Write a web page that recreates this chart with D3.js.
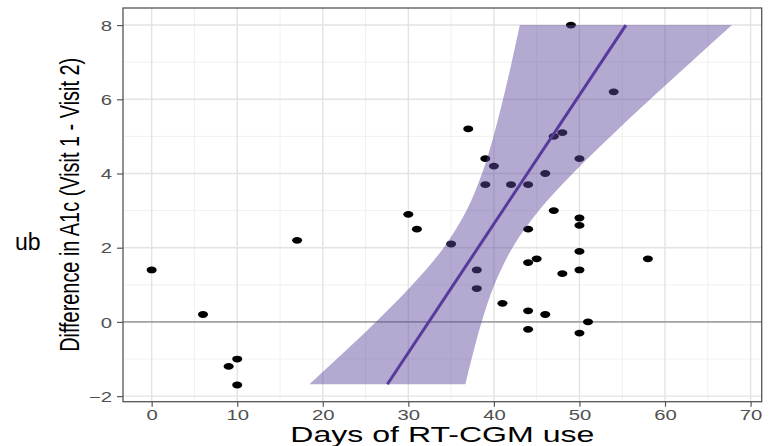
<!DOCTYPE html>
<html>
<head>
<meta charset="utf-8">
<script src="https://cdn.jsdelivr.net/npm/d3@7"></script>
<style>
  html, body { margin: 0; padding: 0; background: #fff; }
  svg { display: block; }
</style>
</head>
<body>
<svg id="chart" width="773" height="446"></svg>
<script>
// ---- data ----
const daysOfUse = [0, 6, 9, 10, 10, 17, 30, 31, 35, 37, 38, 38, 39, 39, 40, 41, 42, 44, 44, 44, 44, 44, 45, 46, 46, 47, 47, 48, 48, 49, 50, 50, 50, 50, 50, 50, 51, 54, 58];
const a1cDiff   = [1.4, 0.2, -1.2, -1.0, -1.7, 2.2, 2.9, 2.5, 2.1, 5.2, 1.4, 0.9, 4.4, 3.7, 4.2, 0.5, 3.7, 2.5, 3.7, 1.6, 0.3, -0.2, 1.7, 0.2, 4.0, 3.0, 5.0, 5.1, 1.3, 8.0, 2.8, 2.6, 1.9, 1.4, 4.4, -0.3, 0.0, 6.2, 1.7];

// fitted line endpoints (x as a function of y)
const fitY = [-1.68, 8];
const fitX = [27.55, 55.43];

// confidence band edges, traced at these y levels
const bandY  = [-1.68, -1, 0, 1, 2, 3, 4, 5, 6, 7, 8];
const bandLo = [18.44, 21.63, 26.21, 30.48, 34.13, 36.80, 38.61, 39.95, 41.07, 42.08, 43.03];
const bandHi = [36.66, 37.39, 38.57, 40.06, 42.17, 45.26, 49.21, 53.63, 58.27, 63.02, 67.83];

const xTicks = [0, 10, 20, 30, 40, 50, 60, 70];
const xMinor = [5, 15, 25, 35, 45, 55, 65];
const yTicks = [-2, 0, 2, 4, 6, 8];
const yMinor = [-1, 1, 3, 5, 7];

const xTitle = "Days of RT-CGM use";
const yTitle = "Difference in A1c (Visit 1 - Visit 2)";
const strayText = "ub";

// ---- drawing ----
const svg = d3.select("#chart");
const L = 123, R = 761.7, T = 8, B = 401.7;
const FONT = "'Liberation Sans', Arial, sans-serif";
const STRETCH = 1.4;

const x = d3.scaleLinear().domain([-3.35, 71.3]).range([L, R]);
const y = d3.scaleLinear().domain([-2.15, 8.46]).range([B, T]);

const panel = svg.append("g");
panel.append("rect").attr("x", L).attr("y", T).attr("width", R - L).attr("height", B - T).attr("fill", "#fff");

// minor grid
panel.selectAll(".xminor").data(xMinor).join("line")
  .attr("x1", d => x(d)).attr("x2", d => x(d)).attr("y1", T).attr("y2", B)
  .attr("stroke", "#eeeeee").attr("stroke-width", 0.9);
panel.selectAll(".yminor").data(yMinor).join("line")
  .attr("y1", d => y(d)).attr("y2", d => y(d)).attr("x1", L).attr("x2", R)
  .attr("stroke", "#eeeeee").attr("stroke-width", 0.9);
// major grid
panel.selectAll(".xmajor").data(xTicks).join("line")
  .attr("x1", d => x(d)).attr("x2", d => x(d)).attr("y1", T).attr("y2", B)
  .attr("stroke", "#e3e3e3").attr("stroke-width", 1.4);
panel.selectAll(".ymajor").data(yTicks).join("line")
  .attr("y1", d => y(d)).attr("y2", d => y(d)).attr("x1", L).attr("x2", R)
  .attr("stroke", "#e3e3e3").attr("stroke-width", 1.4);

// zero reference line
panel.append("line")
  .attr("x1", L).attr("x2", R).attr("y1", y(0)).attr("y2", y(0))
  .attr("stroke", "#a3a3a3").attr("stroke-width", 1.6);

// points
const pts = daysOfUse.map((d, i) => ({ x: d, y: a1cDiff[i] }));
panel.selectAll(".pt").data(pts).join("ellipse")
  .attr("cx", d => x(d.x)).attr("cy", d => y(d.y))
  .attr("rx", 5).attr("ry", 3.4)
  .attr("fill", "#000");

// confidence band
const band = bandY.map((v, i) => ({ y: v, lo: bandLo[i], hi: bandHi[i] }));
const area = d3.area()
  .y(d => y(d.y)).x0(d => x(d.lo)).x1(d => x(d.hi))
  .curve(d3.curveMonotoneY);
panel.append("path").datum(band).attr("d", area)
  .attr("fill", "rgb(95,72,155)").attr("fill-opacity", 0.47);

// fitted line
const fit = fitY.map((v, i) => ({ y: v, x: fitX[i] }));
panel.append("path").datum(fit)
  .attr("d", d3.line().x(d => x(d.x)).y(d => y(d.y)))
  .attr("stroke", "#58399c").attr("stroke-width", 3).attr("fill", "none");

// panel border
svg.append("rect").attr("x", L).attr("y", T).attr("width", R - L).attr("height", B - T)
  .attr("fill", "none").attr("stroke", "#555").attr("stroke-width", 1.3);

// axes
const xAxis = svg.append("g").attr("transform", `translate(0,${B})`)
  .call(d3.axisBottom(x).tickValues(xTicks).tickSize(5).tickPadding(3).tickFormat(d3.format("d")));
const yAxis = svg.append("g").attr("transform", `translate(${L},0)`)
  .call(d3.axisLeft(y).tickValues(yTicks).tickSize(6).tickPadding(5).tickFormat(d3.format("d")));
[xAxis, yAxis].forEach(g => {
  g.select(".domain").remove();
  g.selectAll(".tick line").attr("stroke", "#555").attr("stroke-width", 1.2);
  g.selectAll(".tick text").attr("fill", "#505050")
    .attr("font-family", FONT).attr("font-size", 14.5)
    .attr("transform", `scale(${STRETCH},1)`);
});
xAxis.selectAll(".tick text").attr("dy", "0.71em");
yAxis.selectAll(".tick text").attr("dy", "0.36em").attr("x", -11 / STRETCH);

// axis titles
svg.append("text")
  .attr("x", (L + R) / 2).attr("y", 442)
  .attr("text-anchor", "middle")
  .attr("font-family", FONT).attr("font-size", 22)
  .attr("textLength", 304).attr("lengthAdjust", "spacingAndGlyphs")
  .attr("fill", "#000").text(xTitle);

svg.append("text")
  .attr("transform", `translate(79,${(T + B) / 2}) rotate(-90) scale(1,1.55)`)
  .attr("text-anchor", "middle")
  .attr("font-family", FONT).attr("font-size", 17.5)
  .attr("textLength", 294).attr("lengthAdjust", "spacingAndGlyphs")
  .attr("fill", "#000").text(yTitle);

// stray fragment of text at far left
svg.append("text")
  .attr("x", 15).attr("y", 250)
  .attr("font-family", FONT).attr("font-size", 23)
  .attr("fill", "#000").text(strayText);
</script>
</body>
</html>
